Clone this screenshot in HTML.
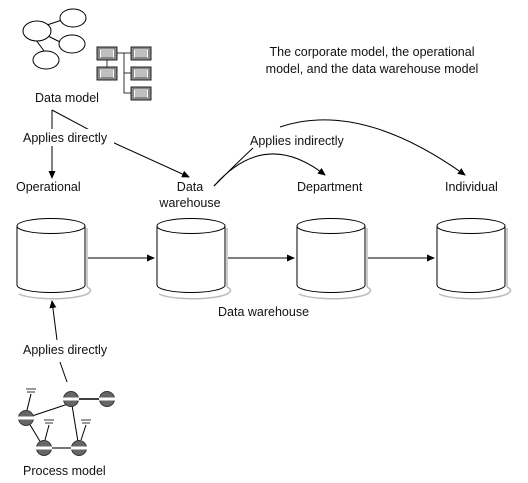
<!DOCTYPE html>
<html><head><meta charset="utf-8"><style>
html,body{margin:0;padding:0;background:#fff;}
svg{display:block;}
text{font-family:"Liberation Sans",sans-serif;font-size:12.5px;fill:#111;}
</style></head><body>
<svg width="528" height="483" viewBox="0 0 528 483" xmlns="http://www.w3.org/2000/svg">
<defs>
<marker id="a" markerWidth="8" markerHeight="8" refX="7" refY="4" orient="auto" markerUnits="userSpaceOnUse">
<path d="M0,0.5 L8,4 L0,7.5 Z" fill="#000"/></marker>
<g id="cyl">
<path d="M0,8 L0,67 A34,7.5 0 0 0 68,67 L68,8" fill="#fff" stroke="#000" stroke-width="1"/>
<ellipse cx="34" cy="8" rx="34" ry="7.5" fill="#fff" stroke="#000"/>
<path d="M70,10 L70,69 M2,76 A34,7.5 0 0 0 70,69" fill="none" stroke="#bbb" stroke-width="1.5"/>
</g>
<g id="doc">
<rect x="0" y="0" width="20" height="13" fill="#888" stroke="#222"/>
<rect x="3" y="2.5" width="14" height="8" fill="#fff"/>
<path d="M4,4h12M4,6h12M4,8h12M4,10h12" stroke="#555" stroke-width="0.8"/>
</g>
<g id="pn">
<circle r="7.5" fill="#666" stroke="#333"/>
<rect x="-8" y="-1.5" width="16" height="3" fill="#fff"/>
</g>
</defs>

<!-- data model icons -->
<g stroke="#000" fill="#fff">
<line x1="44" y1="26" x2="65" y2="19"/><line x1="44" y1="34" x2="62" y2="43"/><line x1="36" y1="40" x2="44" y2="51"/>
<ellipse cx="37" cy="31" rx="14" ry="10"/>
<ellipse cx="73" cy="18" rx="13" ry="9"/>
<ellipse cx="72" cy="44" rx="13" ry="9"/>
<ellipse cx="46" cy="60" rx="13" ry="9"/>
</g>
<path d="M117,53H131M124,53V93H131M124,73H131M107,60V67" stroke="#333" fill="none"/>
<use href="#doc" x="97" y="47"/><use href="#doc" x="97" y="67"/>
<use href="#doc" x="131" y="47"/><use href="#doc" x="131" y="67"/><use href="#doc" x="131" y="87"/>
<text x="67" y="102" text-anchor="middle">Data model</text>

<text x="372" y="56" text-anchor="middle">The corporate model, the operational</text>
<text x="372" y="73" text-anchor="middle">model, and the data warehouse model</text>

<g stroke="#000" fill="none">
<line x1="52" y1="110" x2="52" y2="130"/>
<line x1="52" y1="146" x2="52" y2="178" marker-end="url(#a)"/>
<path d="M52,110 L112,142" />
<line x1="112" y1="142" x2="189" y2="177" marker-end="url(#a)"/>
<path d="M214,186 Q240,160 253,148"/>
<path d="M214,186 Q265,128 325,175" marker-end="url(#a)"/>
<path d="M280,127 Q360,100 465,175" marker-end="url(#a)"/>
<line x1="88" y1="258" x2="154" y2="258" marker-end="url(#a)"/>
<line x1="228" y1="258" x2="294" y2="258" marker-end="url(#a)"/>
<line x1="368" y1="258" x2="434" y2="258" marker-end="url(#a)"/>
<line x1="67" y1="382" x2="60" y2="362"/>
<line x1="57" y1="340" x2="52" y2="301" marker-end="url(#a)"/>
</g>
<rect x="22" y="129" width="92" height="16" fill="#fff"/>
<text x="23" y="142">Applies directly</text>
<text x="250" y="145">Applies indirectly</text>
<text x="16" y="191">Operational</text>
<text x="190" y="191" text-anchor="middle">Data</text>
<text x="190" y="207" text-anchor="middle">warehouse</text>
<text x="297" y="191">Department</text>
<text x="445" y="191">Individual</text>

<use href="#cyl" x="17" y="218"/>
<use href="#cyl" x="157" y="218"/>
<use href="#cyl" x="297" y="218"/>
<use href="#cyl" x="437" y="218"/>

<text x="218" y="316">Data warehouse</text>
<text x="23" y="354">Applies directly</text>

<!-- process model -->
<g stroke="#000" fill="none">
<line x1="26" y1="418" x2="71" y2="403"/>
<line x1="71" y1="399" x2="107" y2="399" stroke-width="1.5"/>
<line x1="71" y1="399" x2="79" y2="448"/>
<line x1="26" y1="418" x2="44" y2="448"/>
<line x1="44" y1="448" x2="79" y2="448" stroke="#777" stroke-width="2"/>
<line x1="31" y1="394" x2="27" y2="410"/>
<line x1="49" y1="425" x2="45" y2="440"/>
<line x1="86" y1="425" x2="81" y2="440"/>
<path d="M26,389h10M27,392h8M44,420h10M45,423h8M81,420h10M82,423h8" stroke="#333"/>
</g>
<use href="#pn" x="71" y="399"/><use href="#pn" x="107" y="399"/>
<use href="#pn" x="26" y="418"/><use href="#pn" x="44" y="448"/><use href="#pn" x="79" y="448"/>
<text x="23" y="475">Process model</text>
</svg>
</body></html>
